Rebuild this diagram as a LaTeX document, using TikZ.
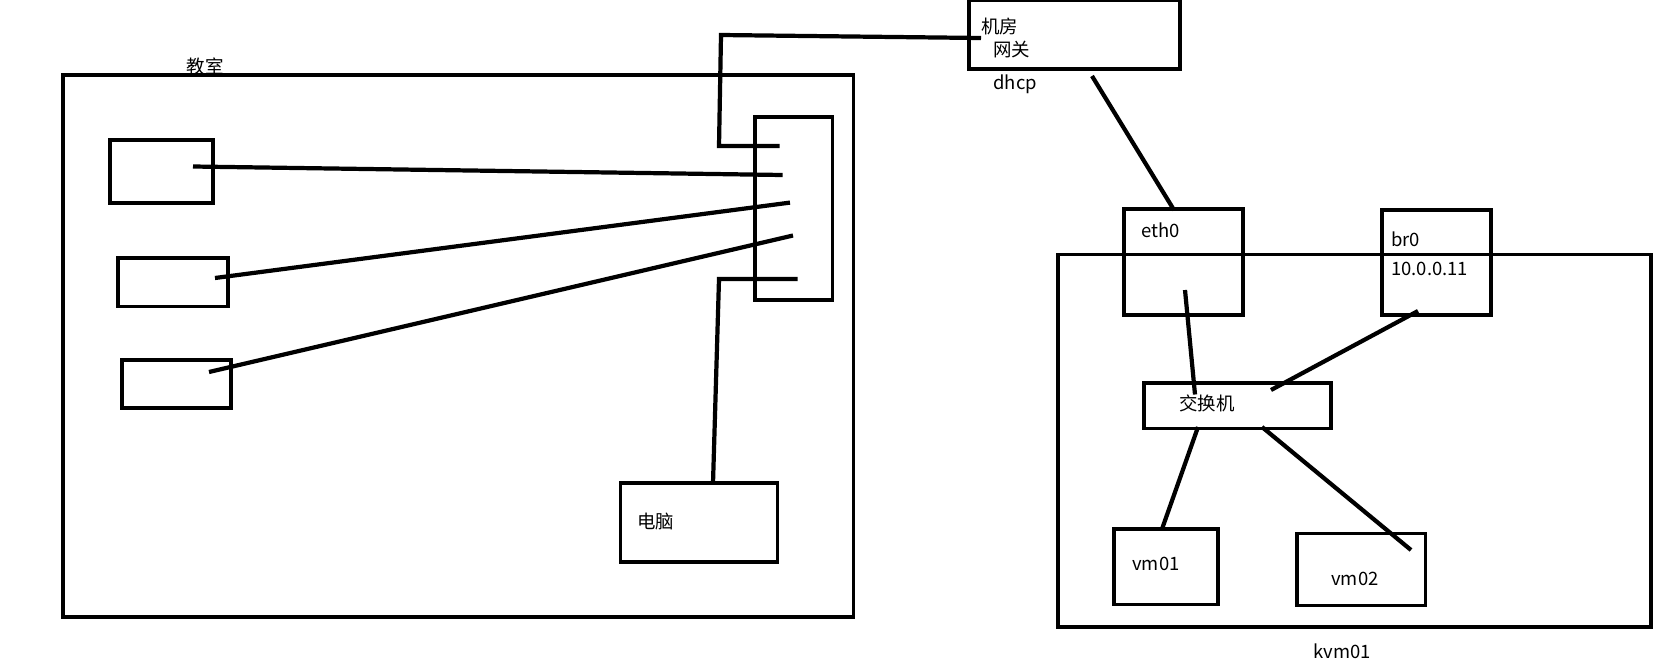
\documentclass[tikz,border=0pt]{standalone}
\usepackage{fontspec}
\setmainfont{Noto Sans CJK SC}
\usetikzlibrary{positioning,calc}

\begin{document}
\begin{tikzpicture}[x=0.02cm,y=-0.02cm,
  box/.style={draw,line width=2.2pt,inner sep=0pt,outer sep=0pt,anchor=north west},
  wire/.style={line width=2.4pt},
  lbl/.style={inner sep=0pt,anchor=west,font=\fontsize{10.5}{12}\selectfont}]
\useasboundingbox (0,0) rectangle (1663,663);
% classroom
\node[box,minimum width=15.82cm,minimum height=10.84cm] (room) at (62.6,75.3) {};
\node[lbl,anchor=center] (roomlbl) at (205,66) {教室};
\node[box,minimum width=2.06cm,minimum height=1.26cm] (pc1) at (110,140) {};
\node[box,minimum width=2.2cm,minimum height=0.97cm] (pc2) at (118,258) {};
\node[box,minimum width=2.18cm,minimum height=0.96cm] (pc3) at (122,360) {};
\node[box,minimum width=1.55cm,minimum height=3.67cm] (hub) at (755,116.7) {};
\node[box,minimum width=3.14cm,minimum height=1.59cm] (pc) at (620.5,482.6) {};
\node[lbl] (pclbl) at (637,522) {电脑};
% machine room
\node[box,minimum width=4.22cm,minimum height=1.38cm] (gw) at (969,0) {};
\node[lbl] (gwlbl) at (981,26) {机房};
\node[lbl] (gwlbl2) at (993,50) {网关};
\node[lbl] (dhcp) at (993,84) {dhcp};
% kvm host
\node[box,minimum width=11.86cm,minimum height=7.45cm] (kvm) at (1058,254.5) {};
\node[lbl,anchor=center] (kvmlbl) at (1342,651) {kvm01};
\node[box,minimum width=2.38cm,minimum height=2.12cm] (eth) at (1124,209) {};
\node[lbl] (ethlbl) at (1141,230) {eth0};
\node[box,minimum width=2.18cm,minimum height=2.1cm] (br) at (1382,210) {};
\node[lbl] (brlbl) at (1391,239) {br0};
\node[lbl] (iplbl) at (1391,269) {10.0.0.11};
\node[box,minimum width=3.74cm,minimum height=0.91cm] (sw) at (1144,383) {};
\node[lbl] (swlbl) at (1179,403) {交换机};
\node[box,minimum width=2.08cm,minimum height=1.51cm] (vm1) at (1114,529) {};
\node[lbl] (vm1lbl) at (1132,564) {vm01};
\node[box,minimum width=2.57cm,minimum height=1.44cm] (vm2) at (1297,533.5) {};
\node[lbl] (vm2lbl) at (1331,579) {vm02};

% cable ends
\coordinate (p1) at (193,166.5);
\coordinate (p2) at (215,278);
\coordinate (p3) at (209,372);
\coordinate (h1) at (782.7,175);
\coordinate (h2) at (790,202.6);
\coordinate (h3) at (793,235.5);
\coordinate (hup) at (779.5,146);
\coordinate (hdn) at (797.6,279);
\coordinate (gwin) at (981,38);
\coordinate (gwout) at (1092,76);
\coordinate (ethtop) at (1174,210);
\coordinate (ethin) at (1185,290);
\coordinate (brin) at (1418,311);
\coordinate (swa) at (1195,394.5);
\coordinate (swb) at (1271,390);
\coordinate (swc) at (1198,427);
\coordinate (swd) at (1262,427);
\coordinate (vm1in) at (1162,529);
\coordinate (vm2in) at (1411,550);

\draw[wire] (p1) -- (h1);
\draw[wire] (p2) -- (h2);
\draw[wire] (p3) -- (h3);
\draw[wire] (hup) -- (719,146) -- (721,35) -- (gwin);
\draw[wire] (hdn) -- (719,279) -- (713,483);
\draw[wire] (gwout) -- (ethtop);
\draw[wire] (ethin) -- (swa);
\draw[wire] (brin) -- (swb);
\draw[wire] (swc) -- (vm1in);
\draw[wire] (swd) -- (vm2in);
\end{tikzpicture}
\end{document}
